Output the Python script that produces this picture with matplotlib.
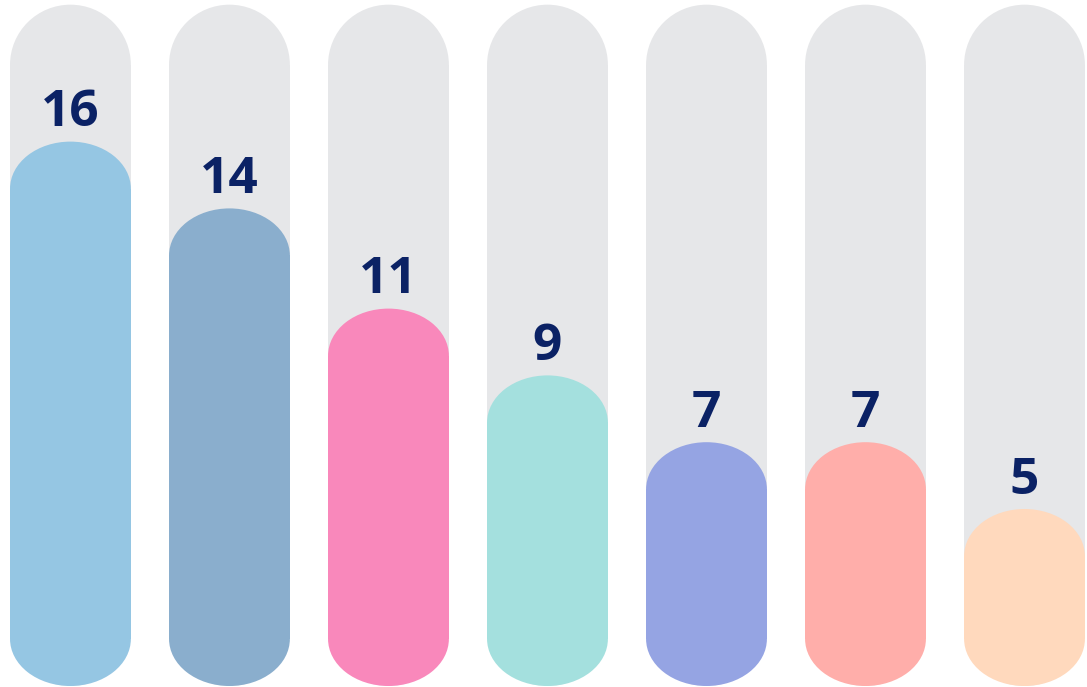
import matplotlib.pyplot as plt
from matplotlib.patches import Rectangle, Ellipse

# datos
values = [16, 14, 11, 9, 7, 7, 5]
colors = ['#95c6e3', '#8aaecd', '#f988bb', '#a4e0de', '#95a4e3', '#ffaeaa', '#ffd9bd']
track_max = 20.1
base = -0.3

bar_w = 0.76
cap_bar = 1.41    # radio vertical de la tapa (unidades de datos)
cap_track = 1.80

fig = plt.figure(figsize=(10.87, 6.87), dpi=100)
ax = fig.add_axes([0, 0, 1, 1])
ax.set_xlim(-0.443, 6.393)
ax.set_ylim(-0.33, 20.24)
ax.axis('off')


def capsule(x, top, cap, color, z):
    # rectangulo central + dos elipses en los extremos
    ax.add_patch(Rectangle((x - bar_w / 2, base + cap), bar_w, top - base - 2 * cap,
                           facecolor=color, edgecolor='none', zorder=z))
    ax.add_patch(Ellipse((x, top - cap), bar_w, 2 * cap,
                         facecolor=color, edgecolor='none', zorder=z))
    ax.add_patch(Ellipse((x, base + cap), bar_w, 2 * cap,
                         facecolor=color, edgecolor='none', zorder=z))


for i, (v, c) in enumerate(zip(values, colors)):
    capsule(i, track_max, cap_track, '#e6e7e9', 1)
    capsule(i, v, cap_bar, c, 2)
    ax.annotate(str(v), (i, v), xytext=(0, 11), textcoords='offset points',
                ha='center', va='baseline', fontsize=37, fontweight='bold',
                family='Open Sans', color='#0b2265', zorder=3)

plt.savefig('out.png', dpi=100)
